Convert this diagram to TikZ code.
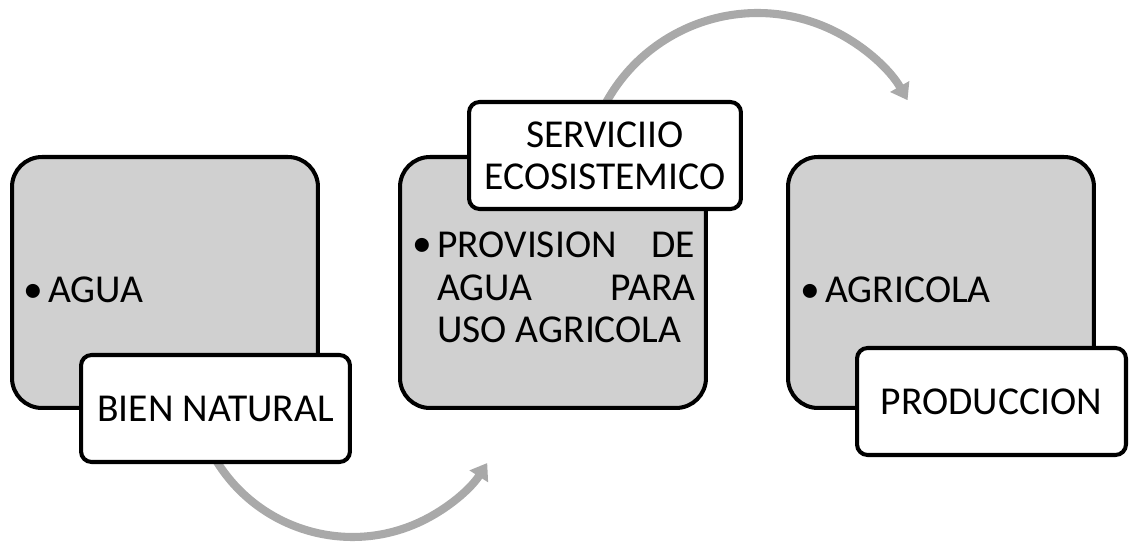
\documentclass[tikz,border=0pt]{standalone}
\usepackage{fontspec}
\setmainfont{Carlito}
\usetikzlibrary{arrows.meta}
\definecolor{boxgray}{HTML}{D0D0D0}
\definecolor{arrowgray}{HTML}{A9A9A9}
\tikzset{
  bigbox/.style={draw=black, line width=2.3pt, fill=boxgray, rounded corners=17pt,
    minimum width=6.12cm, minimum height=5.02cm, inner sep=0pt},
  labelbox/.style={draw=black, line width=2.3pt, fill=white, rounded corners=6pt,
    minimum height=2.14cm, inner sep=0pt, align=center},
  txt/.style={inner sep=0pt, font=\fontsize{22.5}{24}\selectfont},
  flow/.style={draw=arrowgray, line width=4.6pt, -{Triangle[width=12pt,length=9pt]}}
}
\begin{document}
\begin{tikzpicture}[x=0.02cm, y=-0.02cm]
\useasboundingbox (0,0) rectangle (1130,546);
% connectors (behind the boxes)
\coordinate (s1) at (207.7,444.7);
\coordinate (s2) at (600.9,112.8);
\draw[flow] (s1) arc[start angle=205, end angle=327.5, radius=3.196cm];
\draw[flow] (s2) arc[start angle=155, end angle=29.7, radius=3.456cm];
% main boxes
\node[bigbox] (b1) at (165,282.5) {};
\node[bigbox] (b2) at (553,282.5) {};
\node[bigbox] (b3) at (941,282.5) {};
% box texts
\node[txt, anchor=base] (d1) at (33,303) {\textbullet};
\node[txt, anchor=base west] (t1) at (48,303) {AGUA};
\node[txt, anchor=base] (d2) at (422,257) {\textbullet};
\node[txt, anchor=north west, align=left] (t2) at (437,232)
  {\makebox[5.16cm][s]{PROVISION DE}\\\makebox[5.16cm][s]{AGUA PARA}\\USO AGRICOLA};
\node[txt, anchor=base] (d3) at (810,303) {\textbullet};
\node[txt, anchor=base west] (t3) at (825,303) {AGRICOLA};
% label boxes
\node[labelbox, txt, minimum width=5.38cm, minimum height=2.14cm] (l1) at (215.5,408.5) {BIEN NATURAL};
\node[labelbox, txt, minimum width=5.44cm, minimum height=2.14cm] (l2) at (605,155.5) {SERVICIIO\\ECOSISTEMICO};
\node[labelbox, txt, minimum width=5.38cm, minimum height=2.14cm] (l3) at (991.5,401.5) {PRODUCCION};
\end{tikzpicture}
\end{document}
